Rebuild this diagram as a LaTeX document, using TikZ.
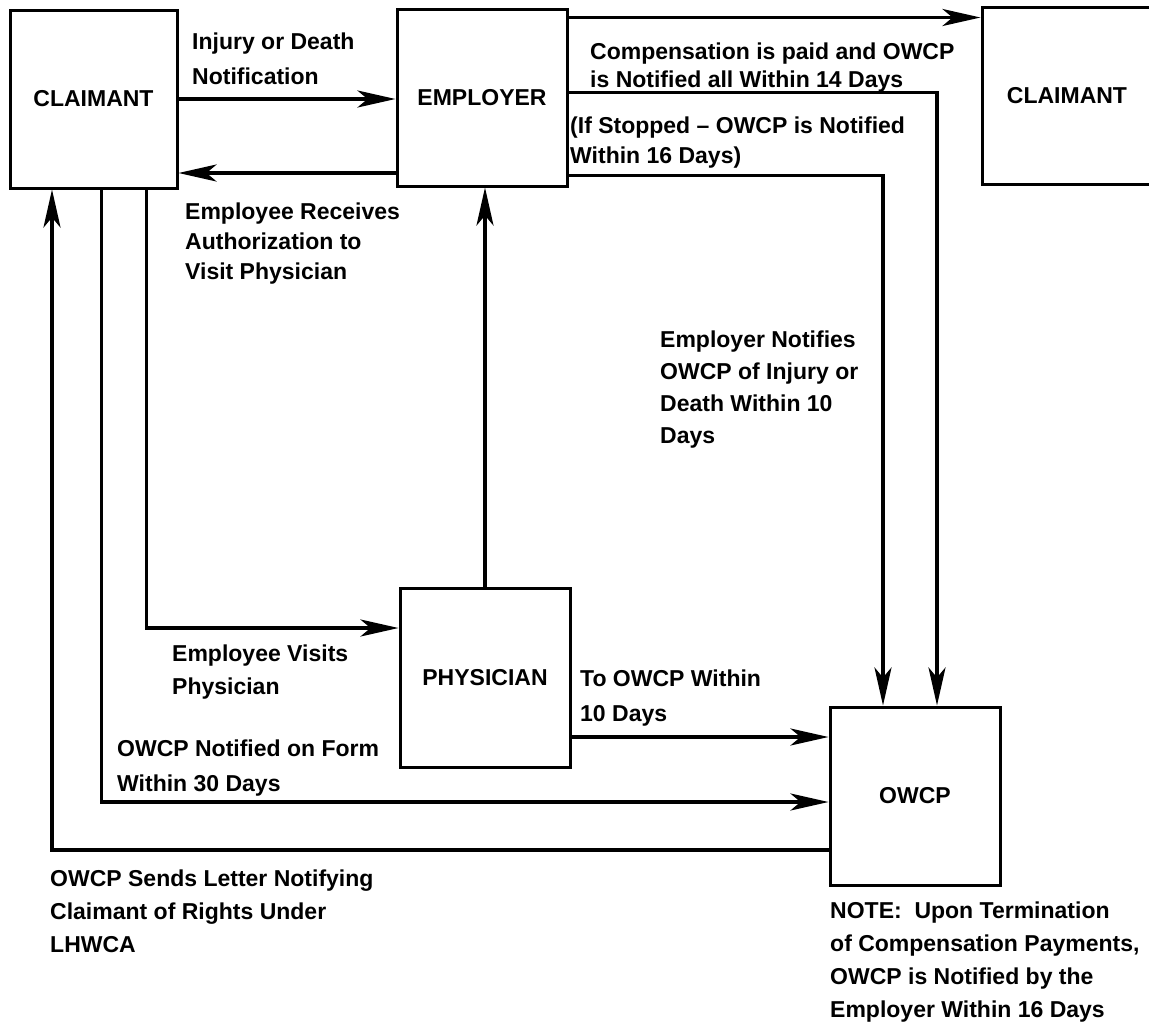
\documentclass[tikz,border=0pt]{standalone}
\usepackage{fontspec}
\setmainfont{Liberation Sans}
\usetikzlibrary{arrows.meta}

\begin{document}
\begin{tikzpicture}[x=1pt, y=-1pt,
  box/.style={draw, line width=3pt, minimum width=170pt, minimum height=177pt,
    inner sep=0pt, font=\fontsize{23}{33}\selectfont\bfseries},
  flow/.style={line width=3.5pt, -{Stealth[length=38pt, width=17pt, inset=10pt]}},
  lbl/.style={anchor=north west, align=left, inner sep=0pt,
    font=\fontsize{23}{#1}\selectfont\bfseries},
  lbl/.default=33]
  \useasboundingbox (0,0) rectangle (1149,1023);
  % Boxes
  \node[box, minimum width=167pt, minimum height=178pt] (claimL) at (93.5,99) {CLAIMANT};
  \node[box] (emp) at (482,97.5) {EMPLOYER};
  \node[box] (claimR) at (1067,95.5) {CLAIMANT};
  \node[box, minimum height=179pt] (phys) at (485,677.5) {PHYSICIAN};
  \node[box, minimum height=178pt] (owcp) at (915,796) {OWCP};
  % Claimant <-> employer
  \draw[flow] (claimL.east) -- (claimL.east -| emp.west);
  \draw[flow] ([yshift=-75.5pt]emp.west) -- ([yshift=-75.5pt]emp.west -| claimL.east);
  % Employer -> claimant, employer -> OWCP
  \draw[flow] ([yshift=-10pt]emp.north east) -- ([yshift=-10pt]emp.north east -| claimR.west);
  \draw[flow] ([yshift=-85pt]emp.north east) -| ([xshift=22pt]owcp.north);
  \draw[flow] ([yshift=12pt]emp.south east) -| ([xshift=-32pt]owcp.north);
  % Physician
  \draw[flow] (phys.north) -- (phys.north |- emp.south);
  \draw[flow] ([xshift=-32pt]claimL.south east) |- ([yshift=49.5pt]phys.west);
  \draw[flow] ([yshift=-59.5pt]phys.east) -- ([yshift=-59.5pt]phys.east -| owcp.west);
  % Claimant <-> OWCP
  \draw[flow] ([xshift=-77pt]claimL.south east) |- ([yshift=-6pt]owcp.west);
  \draw[flow] ([yshift=-54pt]owcp.west) -| ([xshift=-41.5pt]claimL.south);
  % Labels
  \node[lbl=35] (injury) at (192,33) {Injury or Death\\Notification};
  \node[lbl=30] (auth) at (185,203) {Employee Receives\\Authorization to\\Visit Physician};
  \node[lbl=28] (paid) at (590,43) {Compensation is paid and OWCP\\is Notified all Within 14 Days};
  \node[lbl=30] (stopped) at (570,117) {(If Stopped \textendash{} OWCP is Notified\\Within 16 Days)};
  \node[lbl=32] (empnote) at (660,331) {Employer Notifies\\OWCP of Injury or\\Death Within 10\\Days};
  \node[lbl] (visits) at (172,645) {Employee Visits\\Physician};
  \node[lbl=35] (tendays) at (580,670) {To OWCP Within\\10 Days};
  \node[lbl=35] (form) at (117,740) {OWCP Notified on Form\\Within 30 Days};
  \node[lbl] (letter) at (50,870) {OWCP Sends Letter Notifying\\Claimant of Rights Under\\LHWCA};
  \node[lbl] (note) at (830,902) {NOTE:\ \ Upon Termination\\of Compensation Payments,\\OWCP is Notified by the\\Employer Within 16 Days};
\end{tikzpicture}
\end{document}
